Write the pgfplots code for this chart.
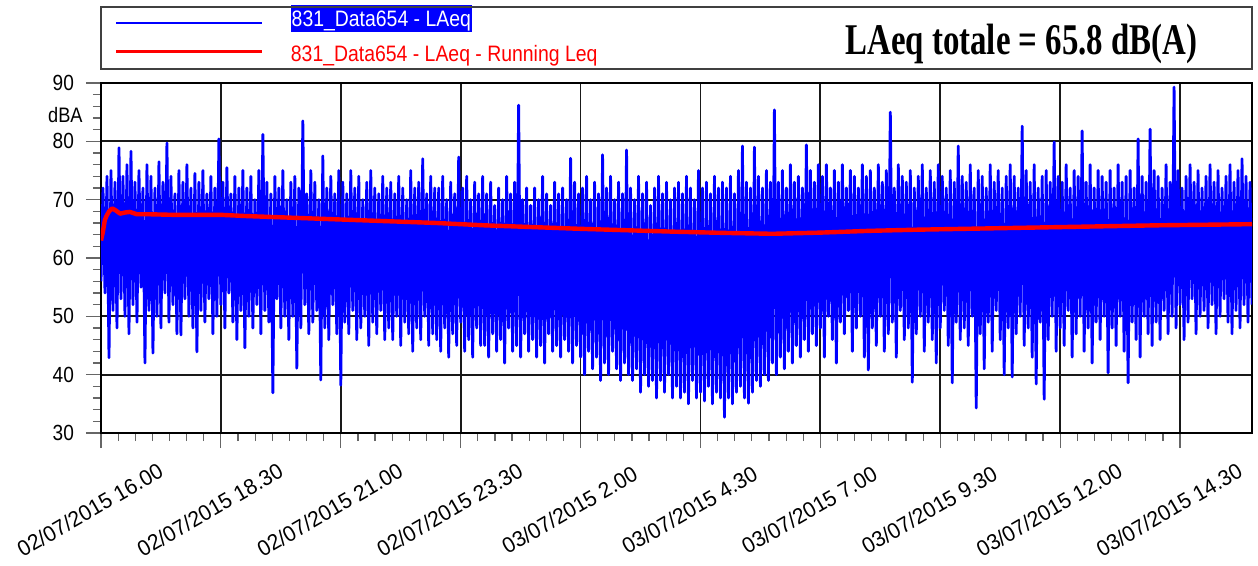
\documentclass[border=0pt]{standalone}
\usepackage{fontspec}
\setmainfont{Liberation Sans}
\newfontfamily\lsans{Liberation Sans}[FakeStretch=0.87]
\newfontfamily\xsans{Liberation Sans}[FakeStretch=0.96]
\newfontfamily\tserif{Liberation Serif}[FakeStretch=0.75]
\usepackage{pgfplots}
\usepackage{pgfplotstable}
\pgfplotsset{compat=1.18}
\setlength{\fboxsep}{0pt}

% LAeq, one value every 2.5 min from 02/07/2015 16.00 (hours 0..24)
\pgfplotstableread[row sep=\\]{
y\\
56\\72\\54\\74\\42.9\\75\\51\\73\\48\\78.9\\53\\74\\50\\76\\47\\78.3\\52\\73\\49\\75\\55\\72\\42\\76\\
51\\74\\43.7\\72\\50\\76.5\\48\\73\\54\\79.7\\49\\74\\52\\71\\47\\75\\46.8\\73\\53\\76\\50\\72\\48\\74.5\\
43.9\\73\\51\\75\\49\\71\\53\\74\\47\\72\\50\\80.4\\52\\73\\48\\75.5\\54\\71\\49\\74\\46\\72\\51\\75\\
44.6\\72\\50\\74\\48\\70\\52\\75\\47\\81.2\\51\\73\\49\\71\\36.9\\74\\53\\72\\48\\75\\50\\70\\46\\73\\
50\\74\\41.1\\72\\48\\83.5\\52\\71\\47\\75\\49\\73\\51\\70\\39.1\\77.5\\48\\72\\46\\74\\52\\71\\47\\75\\
38.2\\73\\49\\71\\47\\75\\51\\72\\46\\74\\48\\70\\50\\73\\45\\75\\49\\72\\47\\71\\51\\74\\46\\72\\
48\\73\\46\\71\\50\\74\\45\\72\\49\\70\\47\\75\\44\\72\\48\\73\\46\\77\\50\\71\\45\\74\\47\\72\\
46\\72\\44\\74\\48\\70\\43\\73\\47\\71\\45\\77.3\\49\\72\\44\\74\\46\\70\\43\\73\\48\\71\\45\\74\\
45\\71\\43\\73\\47\\69\\44\\72\\46\\70\\42\\74\\48\\71\\44\\73\\45\\86.2\\43\\70\\47\\72\\44\\69\\
46\\72\\43\\70\\45\\74\\42\\71\\47\\69\\44\\73\\45\\71\\43\\72\\46\\70\\44\\77.1\\42\\73\\45\\71\\
43\\72\\40\\74\\44\\70\\41\\73\\43\\71\\39\\77.7\\42\\72\\40\\74\\44\\70\\41\\73\\39\\71\\42\\78.5\\
40\\72\\39\\70\\41\\74\\37\\71\\40\\73\\38\\69\\39\\72\\36\\74\\39\\71\\37\\73\\40\\70\\36\\72\\
38\\73\\36\\71\\37\\74\\35\\72\\39\\70\\36\\75\\37\\72\\35.5\\73\\38\\71\\35\\74\\37\\72\\36\\73\\
32.7\\72\\36\\74\\35\\71\\37\\75\\38\\79.2\\36\\73\\35.1\\72\\37\\79\\39\\74\\38\\72\\40\\75\\39\\73\\
42\\85.4\\40\\73\\43\\75\\41\\72\\44\\76\\42\\73\\45\\74\\43\\72\\46\\79.4\\44\\75\\47\\73\\45\\76\\
48\\74\\43\\76\\50\\72\\46\\75\\42\\73\\49\\76\\47\\72\\51\\75\\44\\74\\48\\72\\50\\76\\43\\74\\
40.8\\75\\48\\72\\45\\76\\50\\73\\44\\75\\47\\85\\49\\72\\43\\76\\51\\74\\46\\73\\48\\75\\38.7\\72\\
47\\74\\50\\76\\44\\72\\49\\75\\46\\73\\42\\76\\48\\74\\51\\72\\45\\75\\38.6\\73\\49\\79.2\\46\\74\\
48\\73\\45\\76\\50\\72\\34.3\\75\\47\\74\\41\\72\\49\\76\\44\\73\\51\\75\\46\\72\\40\\74\\48\\76\\
39.6\\74\\47\\72\\50\\82.6\\45\\75\\48\\73\\43\\76\\38.4\\72\\49\\74\\35.8\\75\\46\\73\\50\\79.9\\44\\74\\
48\\73\\45\\76\\51\\72\\43\\75\\47\\74\\50\\81.8\\44\\73\\48\\76\\42\\72\\49\\75\\46\\74\\50\\73\\
40.3\\75\\48\\72\\45\\76\\50\\73\\44\\74\\38.6\\75\\49\\72\\46\\80.4\\43\\74\\50\\73\\47\\82.1\\45\\75\\
49\\74\\46\\72\\51\\76\\47\\73\\50\\89.3\\48\\75\\52\\72\\46\\74\\49\\76\\53\\73\\47\\75\\50\\72\\
51\\74\\48\\76\\52\\73\\47\\75\\50\\72\\53\\74\\49\\76\\47\\73\\51\\75\\48\\77\\52\\74\\49\\73\\
52\\
}\laeqdata

\begin{document}
\begin{tikzpicture}
\begin{axis}[
    at={(0,0)}, anchor=south west,
    scale only axis,
    width=575.5bp, height=175bp,
    xmin=0, xmax=24, ymin=30, ymax=90,
    enlargelimits=false,
    xtick={0,2.5,...,22.5},
    xticklabels={02/07/2015 16.00, 02/07/2015 18.30, 02/07/2015 21.00, 02/07/2015 23.30,
        03/07/2015 2.00, 03/07/2015 4.30, 03/07/2015 7.00, 03/07/2015 9.30,
        03/07/2015 12.00, 03/07/2015 14.30},
    ytick={30,40,...,90},
    minor x tick num=6,
    minor y tick num=4,
    tick align=outside,
    tick pos=left,
    major tick length=7.5bp,
    minor tick length=4bp,
    tick style={black!60, line width=0.6bp},
    grid=major,
    major grid style={black!90, line width=0.9bp},
    axis line style={black, line width=1bp},
    /pgf/number format/assume math mode=true,
    yticklabel style={font=\lsans\fontsize{11}{13}\selectfont, xshift=-2.5bp},
    xticklabel style={font=\xsans\fontsize{11}{13}\selectfont,
        xshift=-5.5bp, yshift=-31bp, rotate=30, anchor=center},
    legend style={at={(axis description cs:0.0121,1.223)}, anchor=north west,
        draw=none, fill=none, inner sep=0pt, outer sep=0pt,
        row sep=7.5bp, column sep=13.5bp,
        font=\lsans\fontsize{11.2}{13}\selectfont,
        nodes={inner sep=0pt}},
    legend cell align=left,
]
\addplot[blue, line width=1.4bp, line join=round,
    legend image code/.code={\draw[blue, line width=1bp] (0bp,-3bp) -- (73bp,-3bp);}]
    table[x expr=\coordindex/24, y=y] {\laeqdata};
\addlegendentry{\colorbox{blue}{\rule[-2bp]{0pt}{13bp}\hspace{0.4bp}\textcolor{white}{831\_Data654 - LAeq}\hspace{0.4bp}}}
\addplot[red, line width=2.2bp, line join=round,
    legend image code/.code={\draw[red, line width=1.5bp] (0bp,1.5bp) -- (73bp,1.5bp);}]
    coordinates {
    (0,63.0) (0.04,64.5) (0.08,66.5) (0.12,67.3) (0.17,68.0) (0.23,68.5)
    (0.3,68.2) (0.4,67.6) (0.5,67.8) (0.6,67.9) (0.75,67.5) (1,67.5)
    (1.5,67.4) (2,67.4) (2.5,67.4) (3,67.2) (4,66.9) (5,66.6) (6,66.3)
    (7,66.0) (8,65.6) (9,65.3) (10,65.0) (11,64.75) (12,64.5) (13,64.3)
    (14,64.15) (15,64.35) (16,64.65) (17,64.85) (18,65.0) (19,65.15)
    (20,65.3) (21,65.45) (22,65.6) (23,65.7) (24,65.8)
};
\addlegendentry{\textcolor{red}{831\_Data654 - LAeq - Running Leq}}
\end{axis}
\begin{scope}[x=0.5bp, y=-0.5bp, shift={(-50.5bp,216.5bp)}]
\draw[black!75, line width=0.6bp] (101,7) rectangle (1252,69);
\node[anchor=base west, inner sep=0pt, font=\tserif\bfseries\fontsize{22}{24}\selectfont]
    at (845,55) {LAeq totale = 65.8 dB(A)};
\node[anchor=east, inner sep=0pt, font=\lsans\fontsize{10.5}{12}\selectfont]
    at (83,115) {dBA};
\end{scope}
\pgfresetboundingbox
\path[use as bounding box] (-50.5bp,-66.5bp) rectangle (578.5bp,216.5bp);
\end{tikzpicture}
\end{document}
